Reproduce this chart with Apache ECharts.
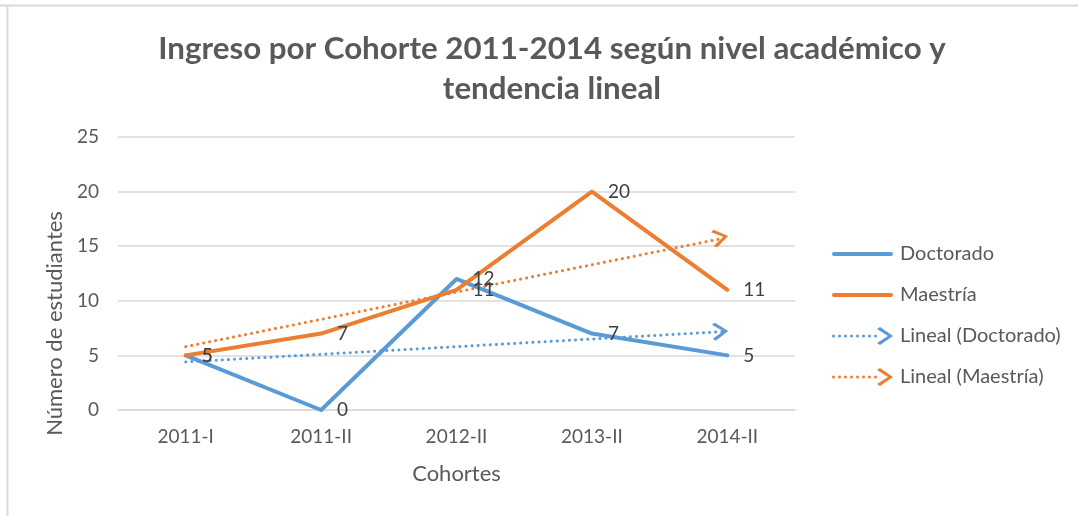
<!DOCTYPE html>
<html>
<head>
<meta charset="utf-8">
<script src="https://cdn.jsdelivr.net/npm/echarts@6/dist/echarts.min.js"></script>
<style>
  html, body { margin: 0; padding: 0; background: #fff; }
  #chart { width: 1078px; height: 516px; }
</style>
</head>
<body>
<div id="chart"></div>
<script>
// data
const cohortes = ['2011-I', '2011-II', '2012-II', '2013-II', '2014-II'];
const doctorado = [5, 0, 12, 7, 5];
const maestria = [5, 7, 11, 20, 11];
const lineaDoctorado = [4.4, 5.1, 5.8, 6.5, 7.2];
const lineaMaestria = [5.8, 8.3, 10.8, 13.3, 15.8];
const yTicks = [0, 5, 10, 15, 20, 25];

const BLUE = '#5B9BD5';
const ORANGE = '#ED7D31';
const TXT = '#595959';
const FONT = 'Lato, "Open Sans", sans-serif';

//-- open chevron drawn as a filled shape
const chevron = 'path://M0,2 L3,0 L16,9 L3,18 L0,16 L11,9 Z';

//-- legend icons: solid line / dotted line with chevron
const solidIcon = 'path://M2,7 L59,7 A2,2 0 0 1 59,11 L2,11 A2,2 0 0 1 2,7 Z';
let dots = '';
for (let x = 1.5; x < 44; x += 6) {
    dots += 'M' + (x - 1.5) + ',9 A1.5,1.5 0 1 0 ' + (x + 1.5) + ',9 A1.5,1.5 0 1 0 ' + (x - 1.5) + ',9 Z ';
}
const trendIcon = 'path://' + dots + 'M45,2 L48,0 L61,9 L48,18 L45,16 L56,9 Z';

function trendData(vals, rot) {
    return vals.map(function (v, i) {
        if (i === vals.length - 1) {
            return { value: v, symbol: chevron, symbolSize: [16, 18], symbolRotate: rot, symbolOffset: [-7, 0] };
        }
        return { value: v, symbol: 'none' };
    });
}

const labelOpt = {
    show: true, position: 'right', distance: 16,
    color: '#404040', fontSize: 19, fontFamily: FONT
};

const chart = echarts.init(document.getElementById('chart'));
chart.setOption({
    backgroundColor: '#fff',
    animation: false,
    title: {
        text: 'Ingreso por Cohorte 2011-2014 según nivel académico y\ntendencia lineal',
        left: 547, top: 24, textAlign: 'center',
        textStyle: { color: TXT, fontSize: 31.3, fontWeight: 'bold', fontFamily: FONT, lineHeight: 40 }
    },
    graphic: [
        { type: 'line', shape: { x1: 0, y1: 5.5, x2: 1078, y2: 5.5 }, style: { stroke: '#D9D9D9', lineWidth: 2 } },
        { type: 'line', shape: { x1: 7.5, y1: 5, x2: 7.5, y2: 516 }, style: { stroke: '#D9D9D9', lineWidth: 2 } }
    ],
    legend: {
        orient: 'vertical',
        left: 827, top: 239,
        itemWidth: 61, itemHeight: 18, itemGap: 21,
        textStyle: { color: TXT, fontSize: 20, fontFamily: FONT, padding: [0, 0, 0, 2] },
        data: [
            { name: 'Doctorado', icon: solidIcon },
            { name: 'Maestría', icon: solidIcon },
            { name: 'Lineal (Doctorado)', icon: trendIcon },
            { name: 'Lineal (Maestría)', icon: trendIcon }
        ]
    },
    grid: { left: 118, right: 283, top: 137, bottom: 106 },
    xAxis: {
        type: 'category',
        data: cohortes,
        name: 'Cohortes',
        nameLocation: 'middle',
        nameGap: 53,
        nameTextStyle: { color: TXT, fontSize: 22, fontFamily: FONT },
        axisLine: { lineStyle: { color: '#D9D9D9', width: 1.5 } },
        axisTick: { show: false },
        axisLabel: { color: TXT, fontSize: 19, fontFamily: FONT, margin: 17 }
    },
    yAxis: {
        type: 'value',
        min: yTicks[0], max: yTicks[yTicks.length - 1], interval: 5,
        name: 'Número de estudiantes',
        nameLocation: 'middle',
        nameGap: 44,
        nameTextStyle: { color: TXT, fontSize: 22, fontFamily: FONT, padding: [0, 100, 0, 0] },
        axisLine: { show: false },
        axisTick: { show: false },
        splitLine: { lineStyle: { color: '#D9D9D9', width: 1.5 } },
        axisLabel: { color: TXT, fontSize: 19, fontFamily: FONT, margin: 19 }
    },
    series: [
        {
            name: 'Doctorado', type: 'line', data: doctorado,
            color: BLUE, symbol: 'circle', symbolSize: 0, showSymbol: true,
            itemStyle: { color: BLUE },
            lineStyle: { color: BLUE, width: 4, cap: 'round', join: 'round' },
            label: labelOpt, z: 3
        },
        {
            name: 'Maestría', type: 'line', data: maestria,
            color: ORANGE, symbol: 'circle', symbolSize: 0, showSymbol: true,
            itemStyle: { color: ORANGE },
            lineStyle: { color: ORANGE, width: 4, cap: 'round', join: 'round' },
            label: labelOpt, z: 3
        },
        {
            name: 'Lineal (Doctorado)', type: 'line', data: trendData(lineaDoctorado, 3.3),
            color: BLUE, itemStyle: { color: BLUE },
            lineStyle: { color: BLUE, width: 3, type: [0.1, 6], cap: 'round' },
            z: 2
        },
        {
            name: 'Lineal (Maestría)', type: 'line', data: trendData(lineaMaestria, 11.4),
            color: ORANGE, itemStyle: { color: ORANGE },
            lineStyle: { color: ORANGE, width: 3, type: [0.1, 6], cap: 'round' },
            z: 2
        }
    ]
});
</script>
</body>
</html>
